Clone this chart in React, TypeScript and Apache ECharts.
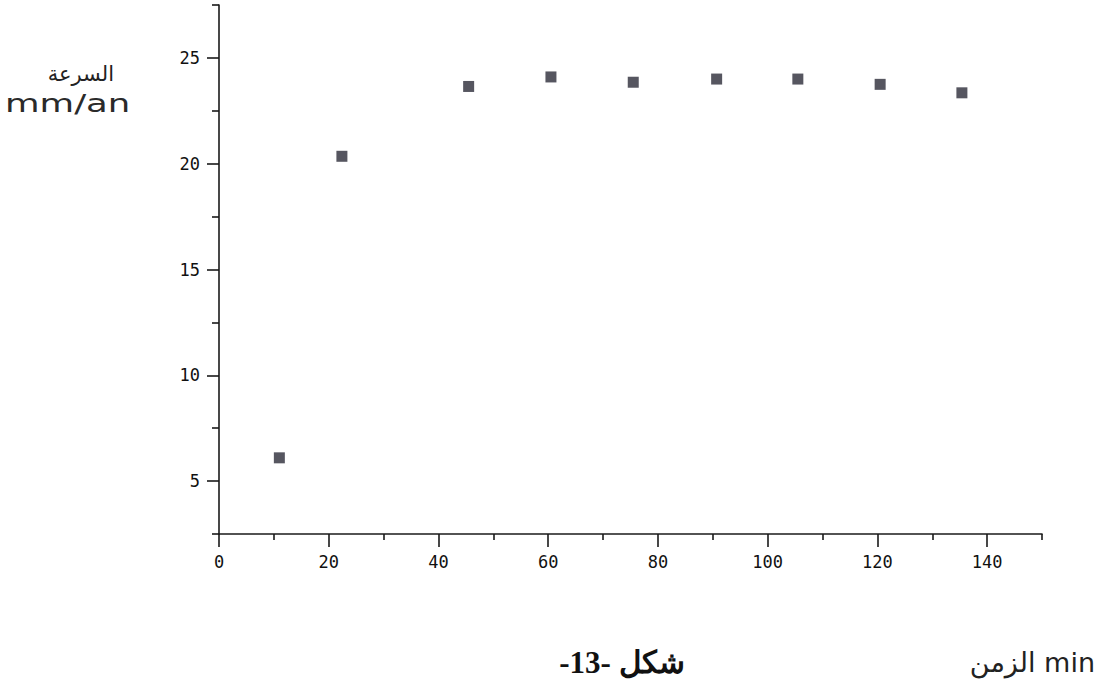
import React, { useEffect, useRef } from "react";
import * as echarts from "echarts";

// Data
const timeMin = [11, 22.4, 45.5, 60.5, 75.5, 90.7, 105.5, 120.5, 135.4];
const speedMmAn = [6.1, 20.35, 23.65, 24.1, 23.85, 24.0, 24.0, 23.75, 23.35];

// Tick values
const xMajorTicks = [0, 20, 40, 60, 80, 100, 120, 140];
const xMinorTicks = [10, 30, 50, 70, 90, 110, 130, 150];
const yMajorTicks = [5, 10, 15, 20, 25];
const yMinorTicks = [2.5, 7.5, 12.5, 17.5, 22.5, 27.5];

const yLabelTop = "السرعة";
const yLabelUnit = "mm/an";
const xLabel = "الزمن min";
const figureTitle = "-13- شكل";

export default function App() {
  const ref = useRef<HTMLDivElement>(null);

  useEffect(() => {
    document.body.style.margin = "0";
    if (!ref.current) return;
    const chart = echarts.init(ref.current, undefined, { renderer: "svg" });
    const axisColor = "#1a1a1a";
    const labelFont = {
      fontFamily: "DejaVu Sans Mono",
      fontSize: 17,
      color: "#111111",
    };
    const pts = timeMin.map((t, i) => [t, speedMmAn[i]]);
    chart.setOption({
      animation: false,
      backgroundColor: "#ffffff",
      grid: { left: 219, right: 58, top: 5, bottom: 153, containLabel: false },
      xAxis: [
        {
          type: "value",
          min: 0,
          max: 150,
          interval: 10,
          position: "bottom",
          axisLine: { show: true, onZero: false, lineStyle: { color: axisColor, width: 1.6 } },
          axisTick: { show: true, customValues: xMajorTicks, length: 13, lineStyle: { color: axisColor, width: 1.6 } },
          axisLabel: { show: true, customValues: xMajorTicks, margin: 19, ...labelFont },
          splitLine: { show: false },
        },
        {
          type: "value",
          min: 0,
          max: 150,
          interval: 10,
          position: "bottom",
          axisLine: { show: false },
          axisTick: { show: true, customValues: xMinorTicks, length: 6, lineStyle: { color: axisColor, width: 1.6 } },
          axisLabel: { show: false },
          splitLine: { show: false },
        },
      ],
      yAxis: [
        {
          type: "value",
          min: 2.5,
          max: 27.5,
          interval: 2.5,
          position: "left",
          axisLine: { show: true, onZero: false, lineStyle: { color: axisColor, width: 1.6 } },
          axisTick: { show: true, customValues: yMajorTicks, length: 12, lineStyle: { color: axisColor, width: 1.6 } },
          axisLabel: { show: true, customValues: yMajorTicks, margin: 19, ...labelFont },
          splitLine: { show: false },
        },
        {
          type: "value",
          min: 2.5,
          max: 27.5,
          interval: 2.5,
          position: "left",
          axisLine: { show: false },
          axisTick: { show: true, customValues: yMinorTicks, length: 7, lineStyle: { color: axisColor, width: 1.6 } },
          axisLabel: { show: false },
          splitLine: { show: false },
        },
      ],
      series: [
        {
          type: "scatter",
          xAxisIndex: 0,
          yAxisIndex: 0,
          data: pts,
          symbol: "rect",
          symbolSize: [11, 11],
          itemStyle: { color: "#2c2c38" },
        },
      ],
      graphic: [
        {
          type: "text",
          x: 114,
          y: 74,
          style: {
            text: yLabelTop,
            fontFamily: "DejaVu Sans",
            fontSize: 21,
            fill: "#222",
            align: "right",
            verticalAlign: "middle",
          },
        },
        {
          type: "text",
          x: 5,
          y: 103,
          scaleX: 1.42,
          style: {
            text: yLabelUnit,
            fontFamily: "DejaVu Sans",
            fontSize: 25,
            fill: "#2a2a2a",
            align: "left",
            verticalAlign: "middle",
          },
        },
        {
          type: "text",
          x: 622,
          y: 662,
          style: {
            text: figureTitle,
            fontFamily: "Liberation Serif",
            fontWeight: "bold",
            fontSize: 31,
            fill: "#111",
            align: "center",
            verticalAlign: "middle",
          },
        },
        {
          type: "text",
          x: 1095,
          y: 662,
          style: {
            text: xLabel,
            fontFamily: "DejaVu Sans",
            fontSize: 27,
            fill: "#222",
            align: "right",
            verticalAlign: "middle",
          },
        },
      ],
    });
    return () => chart.dispose();
  }, []);

  return <div ref={ref} style={{ width: 1100, height: 687 }} />;
}
